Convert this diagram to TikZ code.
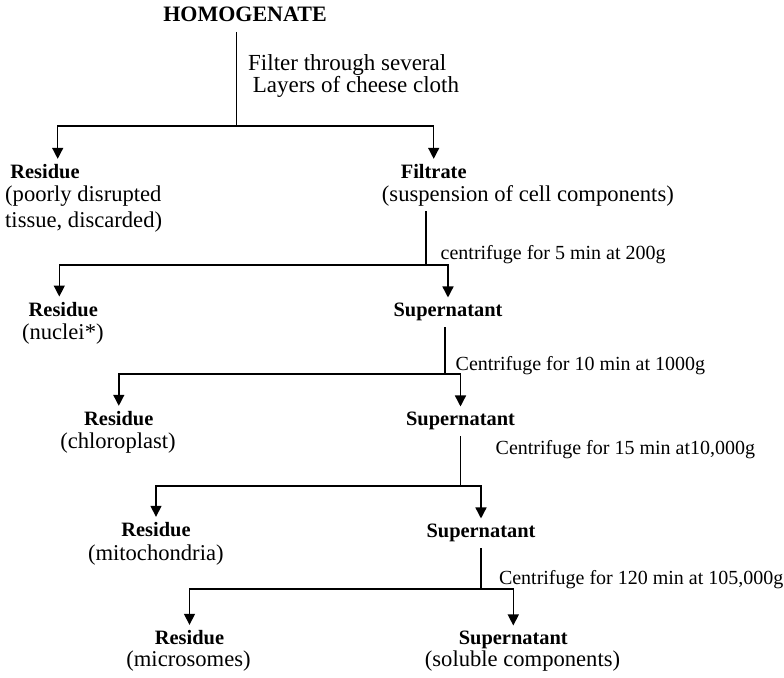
\documentclass[tikz,border=0pt]{standalone}
\usepackage{fontspec}
\setmainfont{Liberation Serif}
\usepackage{tikz}
\usetikzlibrary{arrows.meta}

\begin{document}
\begin{tikzpicture}[x=0.5pt, y=-0.5pt, line width=0.7pt,
  head/.style={font=\fontsize{10.2}{12}\selectfont\bfseries, inner sep=2pt, outer sep=1pt, anchor=base},
  note/.style={font=\fontsize{11.3}{13}\selectfont, inner sep=2pt, anchor=base},
  spin/.style={font=\fontsize{10}{12}\selectfont, inner sep=0pt, anchor=base west},
  flow/.style={-{Triangle[length=5.5pt, width=5.5pt]}}]

  \useasboundingbox (0,0) rectangle (784,678);

  % start and first filtering (two-line nodes sit on their last baseline)
  \node[head, font=\fontsize{11}{13}\selectfont\bfseries, inner sep=4pt] (homog) at (245,21.7) {HOMOGENATE};
  \node[note, anchor=base west, align=left, inner sep=0pt, font=\fontsize{11.5}{11.25}\selectfont] (filter) at (247.5,93) {Filter through several\\\hspace*{0.2em}Layers of cheese cloth};

  \node[head] (res1) at (45,179) {Residue};
  \node[note, anchor=base west, align=left, inner sep=0pt] (res1d) at (4.5,228) {(poorly disrupted\\tissue, discarded)};
  \node[head] (filt) at (433.7,179) {Filtrate};
  \node[note] (filtd) at (527.9,201.7) {(suspension of cell components)};

  \coordinate (j1) at (236.7,126);
  \draw (homog.south -| j1) -- (j1);
  \draw[flow] (j1) -| ([xshift=6.35pt]res1.north);
  \draw[flow] (j1) -| (filt.north);

  % 200g
  \node[spin] (c1) at (440,260) {centrifuge for 5 min at 200g};
  \node[head] (res2) at (63.3,316.7) {Residue};
  \node[note] (res2d) at (62.8,340) {(nuclei*)};
  \node[head] (sup2) at (448,317) {Supernatant};

  \coordinate (j2) at (426,265);
  \draw (filtd.south -| j2) -- (j2);
  \draw[flow] (j2) -| ([xshift=-2pt]res2.north);
  \draw[flow] (j2) -| (sup2.north);

  % 1000g
  \node[spin] (c2) at (455,370.5) {Centrifuge for 10 min at 1000g};
  \node[head] (res3) at (118.8,426) {Residue};
  \node[note] (res3d) at (118,449) {(chloroplast)};
  \node[head] (sup3) at (460.5,426) {Supernatant};

  \coordinate (j3) at (445,374);
  \draw (sup2.south -| j3) -- (j3);
  \draw[flow] (j3) -| (res3.north);
  \draw[flow] (j3) -| (sup3.north);

  % 10,000g
  \node[spin] (c3) at (495,455) {Centrifuge for 15 min at10,000g};
  \node[head] (res4) at (156,537) {Residue};
  \node[note] (res4d) at (155.8,561) {(mitochondria)};
  \node[head] (sup4) at (481,538) {Supernatant};

  \coordinate (j4) at (460.3,486);
  \draw (sup3.south -| j4) -- (j4);
  \draw[flow] (j4) -| (res4.north);
  \draw[flow] (j4) -| (sup4.north);

  % 105,000g
  \node[spin] (c4) at (498.3,585) {Centrifuge for 120 min at 105,000g};
  \node[head] (res5) at (189.5,645) {Residue};
  \node[note] (res5d) at (188.5,667) {(microsomes)};
  \node[head] (sup5) at (513.3,645) {Supernatant};
  \node[note] (sup5d) at (522.5,667) {(soluble components)};

  \coordinate (j5) at (481,589);
  \draw (sup4.south -| j5) -- (j5);
  \draw[flow] (j5) -| (res5.north);
  \draw[flow] (j5) -| (sup5.north);

\end{tikzpicture}
\end{document}
